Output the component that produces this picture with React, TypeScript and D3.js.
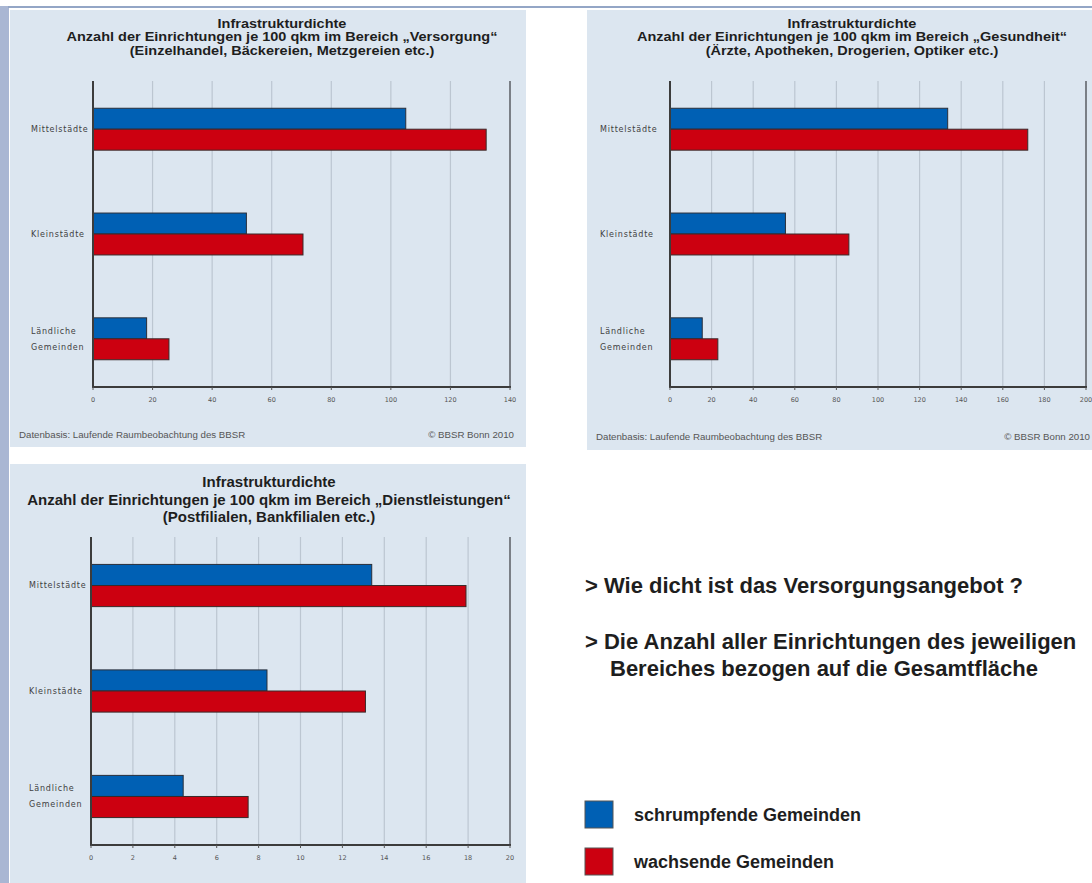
import * as d3 from 'd3';

// categories (y axis)
const categories = ['Mittelstädte', 'Kleinstädte', 'Ländliche Gemeinden'];

// Versorgung (Einzelhandel, Bäckereien, Metzgereien)
const versorgungSchrumpfend = [105, 51.5, 18];
const versorgungWachsend = [132, 70.5, 25.5];

// Gesundheit (Ärzte, Apotheken, Drogerien, Optiker)
const gesundheitSchrumpfend = [133.5, 55.5, 15.5];
const gesundheitWachsend = [172, 86, 23];

// Dienstleistungen (Postfilialen, Bankfilialen)
const dienstSchrumpfend = [13.4, 8.4, 4.4];
const dienstWachsend = [17.9, 13.1, 7.5];

const seriesNames = ['schrumpfende Gemeinden', 'wachsende Gemeinden'];
const seriesColors = ['#0060b4', '#cc0010'];

const bullets = [
  ['> Wie dicht ist das Versorgungsangebot ?'],
  ['> Die Anzahl aller Einrichtungen des jeweiligen', 'Bereiches bezogen auf die Gesamtfläche'],
];

const panelBg = '#dce6f0';
const sans = '"Liberation Sans", Arial, sans-serif';
const small = '"DejaVu Sans", sans-serif';

interface PanelProps {
  bg: [number, number, number, number];
  plot: [number, number, number, number];
  titleX: number;
  titleY: number;
  titleGap: number;
  titleSize: number;
  titleStretch: number;
  title: string[];
  max: number;
  tickCount: number;
  blue: number[];
  red: number[];
  labelX: number;
  footerY?: number;
  footerRight?: number;
}

function Panel({ bg, plot, titleX, titleY, titleGap, titleSize, titleStretch, title, max, tickCount, blue, red, labelX, footerY, footerRight }: PanelProps) {
  const [px0, py0, px1, py1] = plot;
  const x = d3.scaleLinear().domain([0, max]).range([px0, px1]);
  const y = d3.scalePoint<string>().domain(categories).range([py0, py1]).padding(0.46);
  const bh = y.step() * 0.2;
  const ticks = x.ticks(tickCount);

  return (
    <g>
      <rect x={bg[0]} y={bg[1]} width={bg[2] - bg[0]} height={bg[3] - bg[1]} fill={panelBg} />
      <g transform={`translate(${titleX},0) scale(${titleStretch},1)`}>
        {title.map((t, i) => (
          <text key={i} x={0} y={titleY + i * titleGap} dy="0.35em" textAnchor="middle"
            fontFamily={sans} fontWeight="bold" fontSize={titleSize} fill="#1e1e1e">{t}</text>
        ))}
      </g>
      {/* grid */}
      {ticks.map(t => (
        <line key={t} x1={x(t)} x2={x(t)} y1={py0} y2={py1} stroke="#bcc6d1" strokeWidth={1.2} />
      ))}
      {/* bars */}
      {categories.map((c, i) => {
        const cy = y(c) as number;
        return (
          <g key={c}>
            <rect x={x(0)} y={cy - bh} width={x(blue[i]) - x(0)} height={bh}
              fill={seriesColors[0]} stroke="#2a2f3a" strokeWidth={1} />
            <rect x={x(0)} y={cy} width={x(red[i]) - x(0)} height={bh}
              fill={seriesColors[1]} stroke="#3a2a2a" strokeWidth={1} />
          </g>
        );
      })}
      {/* frame */}
      <line x1={px1} x2={px1} y1={py0} y2={py1} stroke="#7a7f86" strokeWidth={2} />
      <line x1={px0} x2={px0} y1={py0} y2={py1 + 1} stroke="#3c3c3c" strokeWidth={2} />
      <line x1={px0} x2={px1 + 1} y1={py1} y2={py1} stroke="#3c3c3c" strokeWidth={2} />
      {ticks.map(t => (
        <g key={t}>
          <line x1={x(t)} x2={x(t)} y1={py1} y2={py1 + 3} stroke="#555" strokeWidth={1} />
          <text x={x(t)} y={py1 + 13} dy="0.35em" textAnchor="middle" fontFamily={small}
            fontSize={6.5} fill="#555">{t}</text>
        </g>
      ))}
      {/* category labels */}
      {categories.map(c => {
        const cy = y(c) as number;
        const parts = c.split(' ');
        return parts.map((p, j) => (
          <text key={c + j} x={labelX} y={cy + (j - (parts.length - 1) / 2) * 16} dy="0.35em"
            fontFamily={small} fontSize={8} letterSpacing={0.8} fill="#404040">{p}</text>
        ));
      })}
      {footerY !== undefined && (
        <g fontFamily={sans} fontSize={9.7} fill="#555">
          <text x={bg[0] + 9} y={footerY} dy="0.35em">Datenbasis: Laufende Raumbeobachtung des BBSR</text>
          <text x={footerRight} y={footerY} dy="0.35em" textAnchor="end">© BBSR Bonn 2010</text>
        </g>
      )}
    </g>
  );
}

export default function App() {
  return (
    <svg width={1092} height={883} style={{ position: 'absolute', left: 0, top: 0, background: '#fff' }}>
      <rect x={0} y={6} width={9} height={877} fill="#a9b6d3" />
      <line x1={8} x2={1092} y1={7} y2={7} stroke="#94a6c6" strokeWidth={2} />

      <Panel bg={[10, 10, 526, 447]} plot={[93, 81, 510, 387]} titleX={282} titleY={24} titleGap={13.3}
        titleSize={12} titleStretch={1.21}
        title={['Infrastrukturdichte', 'Anzahl der Einrichtungen je 100 qkm im Bereich „Versorgung“', '(Einzelhandel, Bäckereien, Metzgereien etc.)']}
        max={140} tickCount={7} blue={versorgungSchrumpfend} red={versorgungWachsend}
        labelX={31} footerY={435} footerRight={514} />

      <Panel bg={[587, 10, 1092, 450]} plot={[670, 81, 1086, 387]} titleX={852} titleY={24} titleGap={13.3}
        titleSize={12} titleStretch={1.21}
        title={['Infrastrukturdichte', 'Anzahl der Einrichtungen je 100 qkm im Bereich „Gesundheit“', '(Ärzte, Apotheken, Drogerien, Optiker etc.)']}
        max={200} tickCount={10} blue={gesundheitSchrumpfend} red={gesundheitWachsend}
        labelX={600} footerY={437} footerRight={1090} />

      <Panel bg={[10, 464, 526, 883]} plot={[91, 537, 510, 845]} titleX={269} titleY={482} titleGap={17.5}
        titleSize={15} titleStretch={1}
        title={['Infrastrukturdichte', 'Anzahl der Einrichtungen je 100 qkm im Bereich „Dienstleistungen“', '(Postfilialen, Bankfilialen etc.)']}
        max={20} tickCount={10} blue={dienstSchrumpfend} red={dienstWachsend}
        labelX={29} />

      {/* explanation text */}
      <g fontFamily={sans} fontWeight="bold" fontSize={22} fill="#1e1e1e">
        <text x={585} y={585} dy="0.35em">{bullets[0][0]}</text>
        <text x={585} y={641} dy="0.35em">{bullets[1][0]}</text>
        <text x={610} y={668} dy="0.35em">{bullets[1][1]}</text>
      </g>

      {/* legend */}
      {seriesNames.map((s, i) => (
        <g key={s} transform={`translate(585, ${801 + i * 47})`}>
          <rect x={0} y={0} width={28} height={27} fill={seriesColors[i]} stroke="#555" strokeWidth={1} />
          <text x={49} y={13.5} dy="0.35em" fontFamily={sans} fontWeight="bold" fontSize={18} fill="#1e1e1e">{s}</text>
        </g>
      ))}
    </svg>
  );
}
